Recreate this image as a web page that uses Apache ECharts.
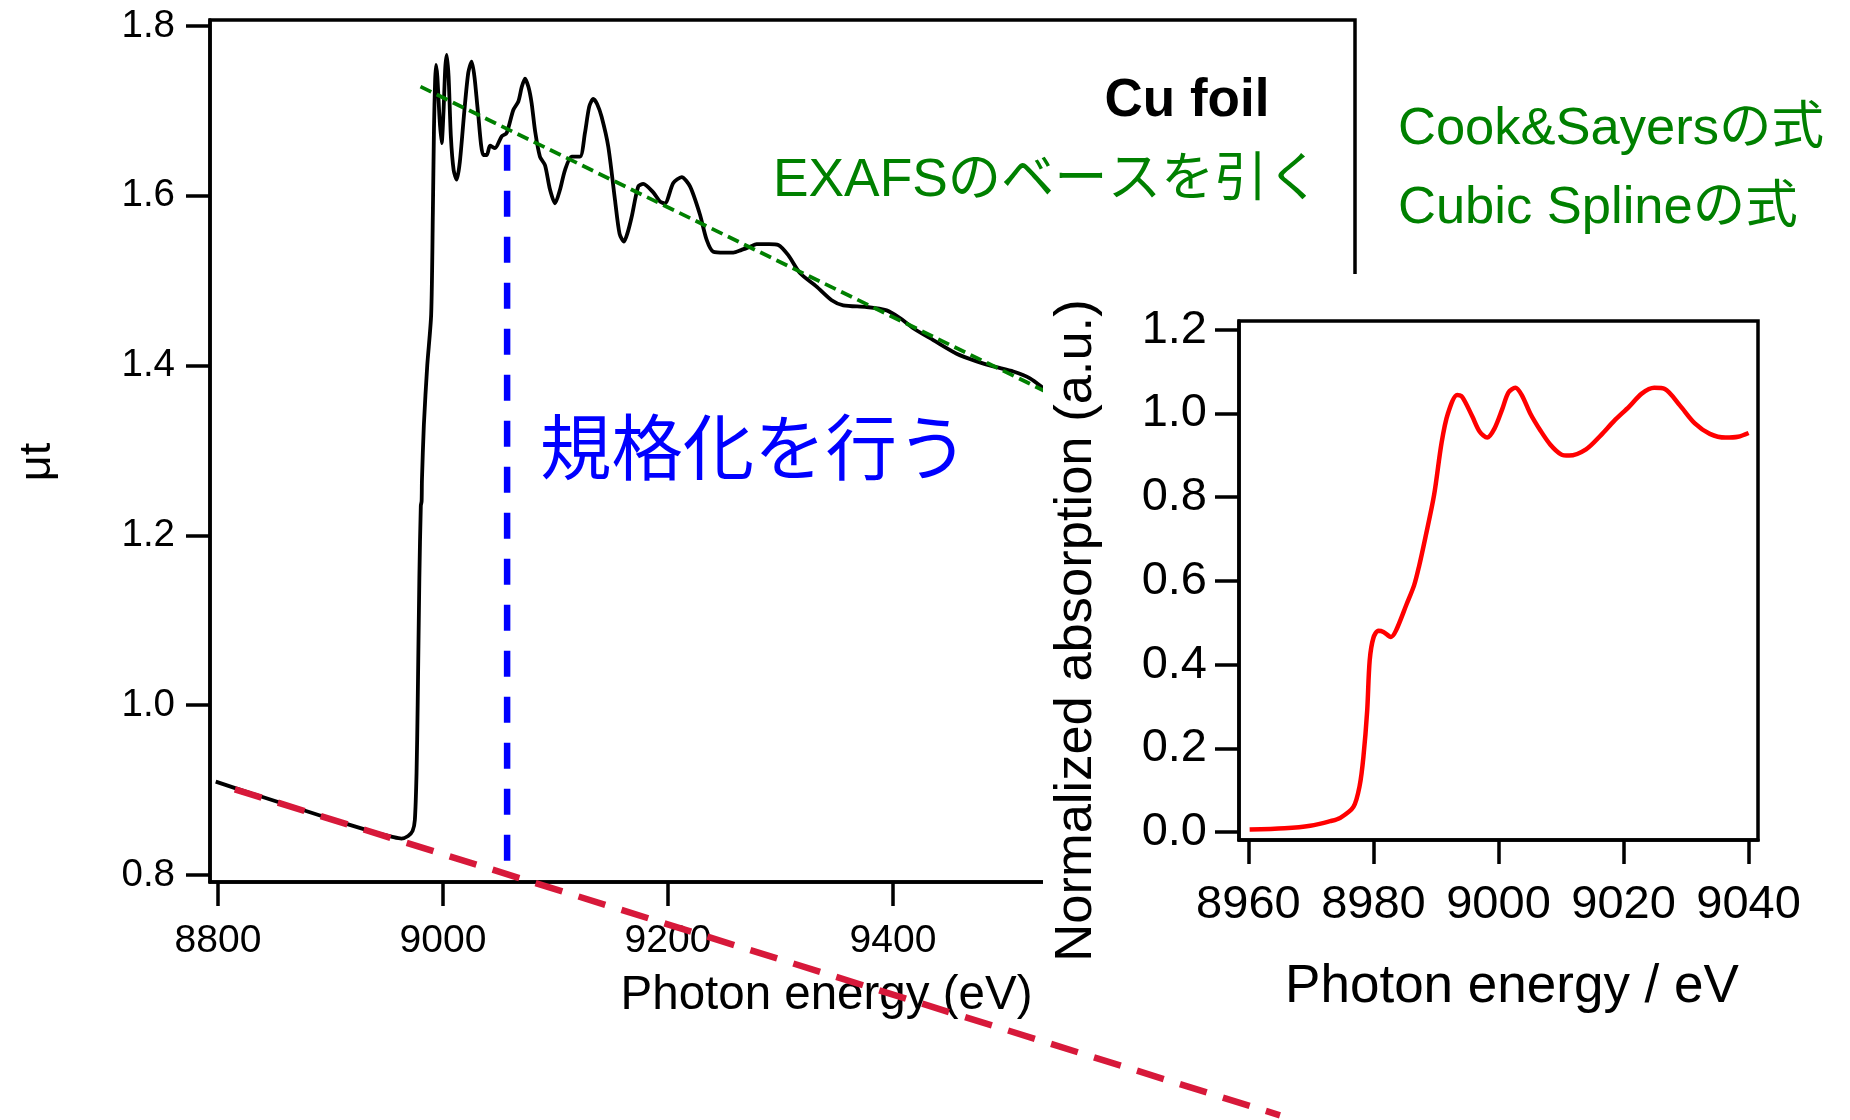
<!DOCTYPE html>
<html>
<head>
<meta charset="utf-8">
<script src="https://cdn.jsdelivr.net/npm/echarts@6/dist/echarts.min.js"></script>
<style>
html,body{margin:0;padding:0;background:#fff;}
#chart{width:1850px;height:1120px;}
</style>
</head>
<body>
<div id="chart"></div>
<script>
// ---------- data ----------
const mainXTicks = [8800, 9000, 9200, 9400, 9600];
const mainYTicks = [0.8, 1.0, 1.2, 1.4, 1.6, 1.8];
const insetXTicks = [8960, 8980, 9000, 9020, 9040];
const insetYTicks = [0.0, 0.2, 0.4, 0.6, 0.8, 1.0, 1.2];

// Cu foil raw absorption (eV, mu t)
const mainCurve = [
  [8798,0.910],[8830,0.896],[8870,0.879],[8910,0.862],[8940,0.850],[8955,0.845],[8963,0.843],[8969,0.846],[8973,0.852],[8975,0.865],
  [8976.5,0.92],[8977.5,1.00],[8979,1.15],[8980.3,1.235],[8981,1.24],[8981.3,1.265],[8983,1.33],[8986,1.40],[8989.5,1.46],[8991,1.58],[8992,1.68],[8993,1.735],[8993.8,1.754],
  [8995,1.74],[8997,1.69],[8998.8,1.662],[9000.5,1.70],[9002,1.75],[9003.3,1.766],[9005,1.74],[9007,1.67],[9009.5,1.63],[9012.2,1.619],[9015,1.64],[9019,1.70],[9022.5,1.745],[9025.5,1.758],[9028,1.74],[9031,1.70],[9035.8,1.648],[9039,1.648],[9041.8,1.659],[9046.2,1.656],[9052.2,1.670],[9056.6,1.674],[9062.5,1.701],[9067,1.711],[9070,1.728],[9072.9,1.738],[9076,1.728],[9078.8,1.709],[9082,1.675],[9086.2,1.646],[9090.7,1.636],[9095,1.608],[9099.6,1.591],[9104,1.607],[9108.4,1.630],[9114.4,1.646],[9121.8,1.646],[9126.2,1.674],[9130,1.705],[9133.6,1.714],[9137,1.708],[9141,1.693],[9146.9,1.658],[9152.9,1.595],[9157,1.555],[9160.9,1.546],[9164,1.556],[9167.7,1.575],[9173.6,1.611],[9178,1.614],[9186.9,1.604],[9193,1.593],[9197.3,1.591],[9204.7,1.615],[9212.2,1.622],[9219.6,1.611],[9228.4,1.578],[9234.4,1.548],[9240.3,1.534],[9250,1.533],[9258.1,1.533],[9265,1.536],[9272.9,1.540],[9278.8,1.543],[9290,1.543],[9298,1.542],[9306.9,1.530],[9317.3,1.509],[9332.1,1.493],[9345.5,1.477],[9355.8,1.471],[9376.6,1.469],[9394.4,1.465],[9406.2,1.456],[9418,1.444],[9435.8,1.430],[9456.6,1.414],[9474.4,1.405],[9489.2,1.399],[9507,1.393],[9521.8,1.385],[9535,1.372],[9545,1.362]
];
// pre-edge baseline (red dashed)
const preEdgeLine = [[8815,0.901],[9744,0.517]];
// EXAFS baseline (green dashed)
const postEdgeLine = [[8980,1.7285],[9545,1.3635]];
// normalization energy (blue dashed)
const normLine = [[9057,1.66],[9057,0.81]];

// normalized XANES (eV, a.u.)
const insetCurve = [
  [8960.2,0.006],[8965.8,0.009],[8969.9,0.015],[8973.1,0.026],[8974.7,0.034],[8976.8,0.060],[8977.8,0.111],[8978.4,0.18],[8979.0,0.29],[8979.4,0.41],[8980.0,0.464],[8980.8,0.481],[8981.6,0.478],[8982.8,0.466],[8983.6,0.481],[8985.3,0.544],[8986.5,0.589],[8987.3,0.635],[8988.3,0.703],[8989.7,0.805],[8990.9,0.93],[8991.9,0.999],[8993.4,1.044],[8994.2,1.039],[8995.8,0.993],[8997.0,0.956],[8998.2,0.942],[8999.4,0.965],[9000.6,1.010],[9001.6,1.050],[9002.7,1.061],[9003.7,1.044],[9005.1,0.999],[9006.7,0.959],[9008.3,0.925],[9010.0,0.902],[9011.3,0.899],[9014.0,0.914],[9016.4,0.948],[9018.5,0.982],[9020.9,1.016],[9022.9,1.047],[9024.9,1.061],[9026.6,1.058],[9029.0,1.019],[9031.4,0.976],[9033.8,0.951],[9036.3,0.942],[9038.3,0.944],[9040.0,0.953]
];

// ---------- chart ----------
const LAT = '"Liberation Sans", Arial, "Noto Sans CJK JP", sans-serif';
const JP = '"Liberation Sans", Arial, "Noto Sans CJK JP", sans-serif';
const chart = echarts.init(document.getElementById('chart'), null, {renderer: 'canvas'});

function axisCommon(fontSize, margin, ticks, z, fmt) {
  return {
    z: z,
    axisLine: {show: true, onZero: false, lineStyle: {color: '#000', width: 3.5}},
    axisTick: {show: true, inside: false, length: 24, lineStyle: {color: '#000', width: 3.5}, customValues: ticks},
    axisLabel: {show: true, color: '#000', fontSize: fontSize, fontFamily: LAT, margin: margin, customValues: ticks, formatter: fmt},
    splitLine: {show: false}
  };
}
const fmtInt = v => String(Math.round(v));
const fmt1 = v => v.toFixed(1);

const option = {
  backgroundColor: '#fff',
  animation: false,
  grid: [
    {left: 210, top: 20, right: 495, bottom: 238, show: true, borderColor: '#000', borderWidth: 3.5, backgroundColor: 'transparent', z: 0},
    {left: 1239, top: 321, right: 92, bottom: 280, show: true, borderColor: '#000', borderWidth: 3.5, backgroundColor: 'transparent', z: 6}
  ],
  xAxis: [
    Object.assign(axisCommon(39, 40, mainXTicks, 0, fmtInt), {
      type: 'value', gridIndex: 0, min: 8792.9, max: 9810.7,
      name: 'Photon energy (eV)', nameLocation: 'middle', nameGap: 90,
      nameTextStyle: {fontSize: 47.5, fontFamily: LAT, color: '#000', padding: [0, 0, 0, 88]}
    }),
    Object.assign(axisCommon(47, 42, insetXTicks, 7, fmtInt), {
      type: 'value', gridIndex: 1, min: 8958.5, max: 9041.5,
      name: 'Photon energy / eV', nameLocation: 'middle', nameGap: 121,
      nameTextStyle: {fontSize: 53, fontFamily: LAT, color: '#000', padding: [0, 0, 0, 27]}
    })
  ],
  yAxis: [
    Object.assign(axisCommon(38.5, 35, mainYTicks, 0, fmt1), {
      type: 'value', gridIndex: 0, min: 0.7918, max: 1.807,
      name: 'μt', nameLocation: 'middle', nameGap: 150,
      nameTextStyle: {fontSize: 45, fontFamily: LAT, color: '#000', padding: [0, 22, 0, 0]}
    }),
    Object.assign(axisCommon(47, 32, insetYTicks, 7, fmt1), {
      type: 'value', gridIndex: 1, min: -0.019, max: 1.2205,
      name: 'Normalized absorption (a.u.)', nameLocation: 'middle', nameGap: 136,
      nameTextStyle: {fontSize: 52.5, fontFamily: LAT, color: '#000', padding: [0, 100, 0, 0]}
    })
  ],
  series: [
    {type: 'line', xAxisIndex: 0, yAxisIndex: 0, data: mainCurve, showSymbol: false, smooth: 0.25, z: 2,
     lineStyle: {color: '#000', width: 3.8}},
    {type: 'line', xAxisIndex: 0, yAxisIndex: 0, data: postEdgeLine, showSymbol: false, z: 3,
     lineStyle: {color: '#008000', width: 3.8, type: [12, 6]}},
    {type: 'line', xAxisIndex: 0, yAxisIndex: 0, data: normLine, showSymbol: false, z: 3,
     lineStyle: {color: '#0000ff', width: 6.5, type: [26, 20]}},
    {type: 'line', xAxisIndex: 1, yAxisIndex: 1, data: insetCurve, showSymbol: false, smooth: 0.3, z: 8,
     lineStyle: {color: '#ff0000', width: 4.5}},
    {type: 'line', xAxisIndex: 0, yAxisIndex: 0, data: preEdgeLine, showSymbol: false, clip: false, z: 9,
     lineStyle: {color: '#d7193a', width: 6.5, type: [28, 17]}}
  ],
  graphic: [
    {type: 'rect', z: 5, shape: {x: 1043, y: 274, width: 807, height: 760}, style: {fill: '#fff'}},
    {type: 'text', z: 10, x: 1187, y: 101, style: {text: 'Cu foil', font: 'bold 53px ' + LAT, fill: '#000', textAlign: 'center', textVerticalAlign: 'middle'}},
    {type: 'text', z: 10, x: 773, y: 181, style: {text: 'EXAFSのベースを引く', font: '53.3px ' + JP, fill: '#008000', textAlign: 'left', textVerticalAlign: 'middle'}},
    {type: 'text', z: 10, x: 1398, y: 130, style: {text: 'Cook&Sayersの式', font: '52.5px ' + JP, fill: '#008000', textAlign: 'left', textVerticalAlign: 'middle'}},
    {type: 'text', z: 10, x: 1398, y: 209, style: {text: 'Cubic Splineの式', font: '52.5px ' + JP, fill: '#008000', textAlign: 'left', textVerticalAlign: 'middle'}},
    {type: 'text', z: 10, x: 540, y: 454, style: {text: '規格化を行う', font: '71.4px ' + JP, fill: '#0000ff', textAlign: 'left', textVerticalAlign: 'middle'}}
  ]
};
chart.setOption(option);
</script>
</body>
</html>
